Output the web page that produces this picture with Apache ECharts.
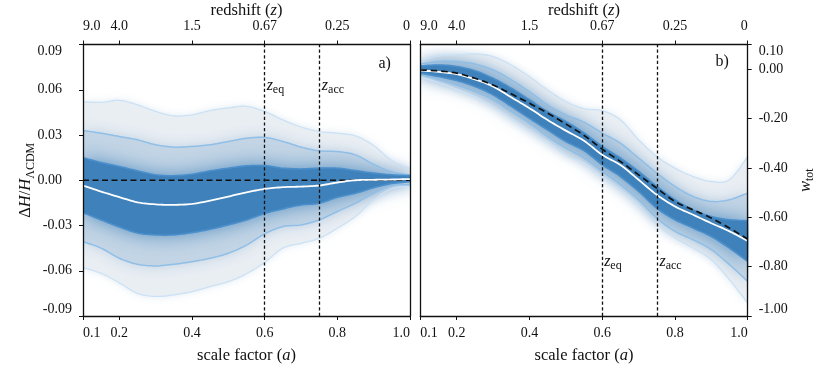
<!DOCTYPE html>
<html><head><meta charset="utf-8">
<script src="https://cdn.jsdelivr.net/npm/echarts@6/dist/echarts.min.js"></script>
<style>html,body{margin:0;padding:0;background:#fff}#c{width:831px;height:372px}</style>
</head><body><div id="c"></div>
<script>
// ---------- data ----------
const scaleFactor = [0.1,0.15,0.2,0.25,0.3,0.35,0.4,0.45,0.5,0.55,0.6,0.65,0.7,0.75,0.8,0.85,0.9,0.95,1.0];
const aTicks = [0.1,0.2,0.4,0.6,0.8,1.0];
const zTickLabels = ['9.0','4.0','1.5','0.67','0.25','0'];
const yTicksLeft = [-0.09,-0.06,-0.03,0,0.03,0.06,0.09];
const yTicksRight = [-1.0,-0.8,-0.6,-0.4,-0.2,0.0,0.1];
const aEq = 0.597, aAcc = 0.749;

// panel a: Delta H / H_LCDM
const dH_up3 = [0.052,0.0516,0.053,0.050,0.0456,0.0427,0.0434,0.0462,0.048,0.049,0.0456,0.040,0.0353,0.0323,0.0312,0.0294,0.023,0.013,0.008];
const dH_up2 = [0.033,0.0312,0.029,0.0268,0.0235,0.022,0.0224,0.0235,0.0257,0.0278,0.0284,0.0257,0.022,0.0195,0.019,0.0168,0.0105,0.0055,0.0035];
const dH_up1 = [0.015,0.0117,0.0091,0.0062,0.0036,0.003,0.004,0.0062,0.008,0.0095,0.0097,0.008,0.0075,0.008,0.008,0.0064,0.0047,0.0036,0.003];
const dH_med = [-0.0035,-0.0075,-0.0112,-0.0146,-0.016,-0.0163,-0.0157,-0.0135,-0.0108,-0.008,-0.0058,-0.0046,-0.0042,-0.0035,-0.0015,0.0,0.0003,0.0005,0.0008];
const dH_lo1 = [-0.0215,-0.0263,-0.031,-0.035,-0.0362,-0.0362,-0.0347,-0.0325,-0.0296,-0.0263,-0.022,-0.019,-0.0164,-0.0153,-0.0113,-0.0086,-0.0049,-0.0022,-0.001];
const dH_lo2 = [-0.0407,-0.045,-0.0517,-0.0557,-0.0568,-0.0557,-0.054,-0.0517,-0.0484,-0.043,-0.0355,-0.0307,-0.0296,-0.0263,-0.0207,-0.0152,-0.0086,-0.0035,-0.003];
const dH_lo3 = [-0.058,-0.0617,-0.068,-0.075,-0.077,-0.076,-0.0738,-0.0705,-0.0672,-0.062,-0.0545,-0.045,-0.0418,-0.0385,-0.0318,-0.024,-0.013,-0.0055,-0.004];
const dH_lcdm = [0,0,0,0,0,0,0,0,0,0,0,0,0,0,0,0,0,0,0];

// panel b: w_tot
const w_up3 = [0.035,0.054,0.058,0.062,0.051,0.017,-0.030,-0.084,-0.131,-0.160,-0.168,-0.205,-0.286,-0.354,-0.401,-0.435,-0.455,-0.448,-0.354];
const w_up2 = [0.021,0.031,0.031,0.021,-0.003,-0.043,-0.091,-0.145,-0.185,-0.215,-0.259,-0.300,-0.360,-0.421,-0.475,-0.516,-0.536,-0.529,-0.502];
const w_up1 = [0.013,0.017,0.011,-0.006,-0.037,-0.077,-0.124,-0.172,-0.212,-0.258,-0.313,-0.360,-0.414,-0.475,-0.529,-0.570,-0.597,-0.610,-0.614];
const w_med = [-0.005,-0.011,-0.020,-0.041,-0.070,-0.114,-0.158,-0.206,-0.249,-0.290,-0.347,-0.388,-0.448,-0.509,-0.556,-0.590,-0.624,-0.657,-0.696];
const w_lcdm = [-0.003,-0.007,-0.016,-0.037,-0.064,-0.100,-0.138,-0.178,-0.222,-0.268,-0.324,-0.374,-0.428,-0.482,-0.536,-0.570,-0.603,-0.644,-0.688];
const w_lo1 = [-0.016,-0.030,-0.046,-0.070,-0.104,-0.151,-0.199,-0.246,-0.293,-0.330,-0.387,-0.435,-0.495,-0.563,-0.610,-0.644,-0.678,-0.725,-0.779];
const w_lo2 = [-0.023,-0.041,-0.064,-0.091,-0.124,-0.172,-0.219,-0.273,-0.320,-0.360,-0.414,-0.468,-0.529,-0.603,-0.657,-0.691,-0.731,-0.792,-0.860];
const w_lo3 = [-0.033,-0.054,-0.081,-0.111,-0.151,-0.199,-0.246,-0.293,-0.347,-0.380,-0.435,-0.489,-0.549,-0.630,-0.684,-0.725,-0.772,-0.853,-0.948];

// ---------- style ----------
const FONT = '"Liberation Serif","Times New Roman",serif';
const TXT = '#111';
const C = {
  band3: '#e9eef3', band2: '#c3d5e5', band1: '#3f81ba',
  line3: '#cbe1f5', line2: '#8fbfe7', line1: '#4a8fcb'
};

// Catmull-Rom smoothing of pixel points (rendering only)
const SUB = 8;
function smoothPts(pts){
  const out = [], n = pts.length;
  for (let i = 0; i < n - 1; i++){
    const p0 = pts[Math.max(i-1,0)], p1 = pts[i], p2 = pts[i+1], p3 = pts[Math.min(i+2,n-1)];
    for (let s = 0; s < SUB; s++){
      const t = s / SUB, t2 = t*t, t3 = t2*t;
      const f = k => 0.5*(2*p1[k] + (-p0[k]+p2[k])*t + (2*p0[k]-5*p1[k]+4*p2[k]-p3[k])*t2 + (-p0[k]+3*p1[k]-3*p2[k]+p3[k])*t3);
      out.push([f(0), f(1)]);
    }
  }
  out.push(pts[n-1]);
  return out;
}

function bandSeries(lo, up, xi, yi, style){
  return {type:'custom', coordinateSystem:'cartesian2d', xAxisIndex:xi, yAxisIndex:yi,
    data:[[scaleFactor[0], lo[0]]], clip:true, silent:true, animation:false,
    renderItem:(params, api) => {
      const U = smoothPts(scaleFactor.map((a,i)=>api.coord([a, up[i]])));
      const L = smoothPts(scaleFactor.map((a,i)=>api.coord([a, lo[i]])));
      return {type:'polygon', shape:{points: U.concat(L.reverse())}, style: Object.assign({}, style)};
    }};
}
function curveSeries(vals, xi, yi, style){
  return {type:'custom', coordinateSystem:'cartesian2d', xAxisIndex:xi, yAxisIndex:yi,
    data:[[scaleFactor[0], vals[0]]], clip:true, silent:true, animation:false,
    renderItem:(params, api) => {
      const P = smoothPts(scaleFactor.map((a,i)=>api.coord([a, vals[i]])));
      return {type:'polyline', shape:{points:P}, style: Object.assign({fill:null, lineCap:'butt', lineJoin:'round'}, style)};
    }};
}

const nameRich = {
  i: {fontFamily:FONT, fontSize:16.5, fontStyle:'italic', color:TXT},
  n: {fontFamily:FONT, fontSize:16.5, color:TXT},
  s: {fontFamily:FONT, fontSize:12, color:TXT, padding:[9,0,0,0]}
};
const zRich = {
  i: {fontFamily:FONT, fontSize:16, fontStyle:'italic', color:TXT},
  s: {fontFamily:FONT, fontSize:12, color:TXT, padding:[8,0,0,0]}
};

function panelSeries(d, xi, yi, labelY){
  const s = [];
  s.push(bandSeries(d.lo3, d.up3, xi, yi, {fill:C.band3, shadowBlur:8, shadowColor:'rgba(220,231,241,0.9)'}));
  s.push(bandSeries(d.lo2, d.up2, xi, yi, {fill:C.band2, shadowBlur:14, shadowColor:'rgba(185,206,226,0.95)'}));
  s.push(bandSeries(d.lo1, d.up1, xi, yi, {fill:C.band1, shadowBlur:20, shadowColor:'rgba(63,129,186,0.85)'}));
  s.push(curveSeries(d.up3, xi, yi, {stroke:C.line3, lineWidth:1.3}));
  s.push(curveSeries(d.lo3, xi, yi, {stroke:C.line3, lineWidth:1.3}));
  s.push(curveSeries(d.up2, xi, yi, {stroke:C.line2, lineWidth:1.5}));
  s.push(curveSeries(d.lo2, xi, yi, {stroke:C.line2, lineWidth:1.5}));
  s.push(curveSeries(d.up1, xi, yi, {stroke:C.line1, lineWidth:1.6}));
  s.push(curveSeries(d.lo1, xi, yi, {stroke:C.line1, lineWidth:1.6}));
  if (d.dashFirst) s.push(curveSeries(d.lcdm, xi, yi, {stroke:'#111', lineWidth:1.6, lineDash:[6,3.5]}));
  s.push(curveSeries(d.med, xi, yi, {stroke:'#fff', lineWidth:1.8}));
  if (!d.dashFirst) s.push(curveSeries(d.lcdm, xi, yi, {stroke:'#111', lineWidth:1.7, lineDash:[6.5,4]}));
  s.push({type:'line', xAxisIndex:xi, yAxisIndex:yi, data:[], silent:true, animation:false,
    markLine:{symbol:['none','none'], silent:true, animation:false, label:{show:false},
      lineStyle:{color:'#111', type:[3.2,2.4], width:1.3},
      data:[{xAxis:aEq},{xAxis:aAcc}]},
    markPoint:{symbol:'circle', symbolSize:0.1, silent:true, animation:false,
      itemStyle:{color:'rgba(0,0,0,0)'},
      label:{show:true, position:'right', distance:3, formatter: p => '{i|z}{s|' + p.name + '}', rich: zRich},
      data:[{name:'eq', coord:[aEq, labelY]},{name:'acc', coord:[aAcc, labelY]}]}
  });
  return s;
}

const fmt2 = v => (Math.abs(v) < 1e-9 ? 0 : v).toFixed(2);
const axLine = {show:true, onZero:false, lineStyle:{color:'#111', width:1.3}};

function bottomX(gi){
  return {gridIndex:gi, type:'value', position:'bottom', min:0.1, max:1.0, z:10,
    name:'scale factor ({i|a})', nameLocation:'middle', nameGap:31.5, nameMoveOverlap:false,
    nameTextStyle:{fontFamily:FONT, fontSize:16.5, color:TXT, rich:{i:{fontFamily:FONT, fontSize:16.5, fontStyle:'italic', color:TXT}}},
    axisLine:axLine,
    axisTick:{show:true, length:4, lineStyle:{color:'#111', width:1}, customValues:aTicks},
    axisLabel:{show:true, customValues:aTicks, margin:10, fontFamily:FONT, fontSize:14, color:TXT,
      formatter: v => v.toFixed(1), alignMinLabel:'left', alignMaxLabel:'right', showMinLabel:true, showMaxLabel:true},
    splitLine:{show:false}};
}
function topX(gi){
  return {gridIndex:gi, type:'value', position:'top', min:0.1, max:1.0, z:10,
    name:'redshift ({i|z})', nameLocation:'middle', nameGap:25, nameMoveOverlap:false,
    nameTextStyle:{fontFamily:FONT, fontSize:16.5, color:TXT, rich:{i:{fontFamily:FONT, fontSize:16.5, fontStyle:'italic', color:TXT}}},
    axisLine:axLine,
    axisTick:{show:true, length:4, lineStyle:{color:'#111', width:1}, customValues:aTicks},
    axisLabel:{show:true, customValues:aTicks, margin:11, fontFamily:FONT, fontSize:14, color:TXT,
      formatter: v => { let k = 0; aTicks.forEach((t,i)=>{ if (Math.abs(t-v) < 1e-6) k = i; }); return zTickLabels[k]; },
      alignMinLabel:'left', alignMaxLabel:'right', showMinLabel:true, showMaxLabel:true},
    splitLine:{show:false}};
}

const option = {
  animation:false,
  backgroundColor:'#fff',
  grid:[
    {left:83, top:44.5, width:327, height:271.5, outerBoundsMode:'none', containLabel:false},
    {left:420.3, top:44.5, width:327.4, height:271.5, outerBoundsMode:'none', containLabel:false}
  ],
  xAxis:[bottomX(0), topX(0), bottomX(1), topX(1)],
  yAxis:[
    {gridIndex:0, type:'value', position:'left', min:-0.09, max:0.09, interval:0.03, z:10,
      name:'{n|Δ}{i|H}{n|/}{i|H}{s|ΛCDM}', nameLocation:'middle', nameRotate:90, nameGap:46.5, nameMoveOverlap:false,
      nameTextStyle:{fontFamily:FONT, fontSize:16.5, color:TXT, rich:nameRich},
      axisLine:axLine,
      axisTick:{show:true, length:4, lineStyle:{color:'#111', width:1}, customValues:yTicksLeft},
      axisLabel:{show:true, customValues:yTicksLeft, margin:11, fontFamily:FONT, fontSize:14, color:TXT,
        verticalAlignMinLabel:'bottom', verticalAlignMaxLabel:'top', showMinLabel:true, showMaxLabel:true,
        formatter: v => (v >= -1e-9 ? '{p|' + fmt2(v) + '}' : '{q|' + fmt2(v) + '}'),
        rich:{p:{fontFamily:FONT, fontSize:14, color:TXT, padding:[0,10,0,0]}, q:{fontFamily:FONT, fontSize:14, color:TXT}}},
      splitLine:{show:false}},
    {gridIndex:0, type:'value', position:'right', min:-0.09, max:0.09, interval:0.03, z:10,
      axisLine:axLine, axisTick:{show:false}, axisLabel:{show:false}, splitLine:{show:false}},
    {gridIndex:1, type:'value', position:'right', min:-1.0, max:0.1, interval:0.2, z:10,
      name:'{i|w}{s|tot}', nameLocation:'middle', nameRotate:90, nameGap:47, nameMoveOverlap:false,
      nameTextStyle:{fontFamily:FONT, fontSize:16.5, color:TXT, rich:nameRich},
      axisLine:axLine,
      axisTick:{show:true, length:4, lineStyle:{color:'#111', width:1}, customValues:yTicksRight},
      axisLabel:{show:true, customValues:yTicksRight, margin:11, fontFamily:FONT, fontSize:14, color:TXT,
        verticalAlignMinLabel:'bottom', verticalAlignMaxLabel:'top', showMinLabel:true, showMaxLabel:true,
        formatter: v => fmt2(v)},
      splitLine:{show:false}},
    {gridIndex:1, type:'value', position:'left', min:-1.0, max:0.1, interval:0.2, z:10,
      axisLine:axLine, axisTick:{show:false}, axisLabel:{show:false}, splitLine:{show:false}}
  ],
  graphic:[
    {type:'text', left:378.5, top:56, z:100, style:{text:'a)', font:'16px ' + FONT, fill:TXT}},
    {type:'text', left:715.5, top:54, z:100, style:{text:'b)', font:'16px ' + FONT, fill:TXT}}
  ],
  series:[
    ...panelSeries({up3:dH_up3, up2:dH_up2, up1:dH_up1, med:dH_med, lo1:dH_lo1, lo2:dH_lo2, lo3:dH_lo3, lcdm:dH_lcdm, dashFirst:true}, 0, 0, 0.0625),
    ...panelSeries({up3:w_up3, up2:w_up2, up1:w_up1, med:w_med, lo1:w_lo1, lo2:w_lo2, lo3:w_lo3, lcdm:w_lcdm, dashFirst:false}, 2, 2, -0.78)
  ]
};

const chart = echarts.init(document.getElementById('c'), null, {renderer:'canvas', width:831, height:372});
chart.setOption(option);
</script>
</body></html>
